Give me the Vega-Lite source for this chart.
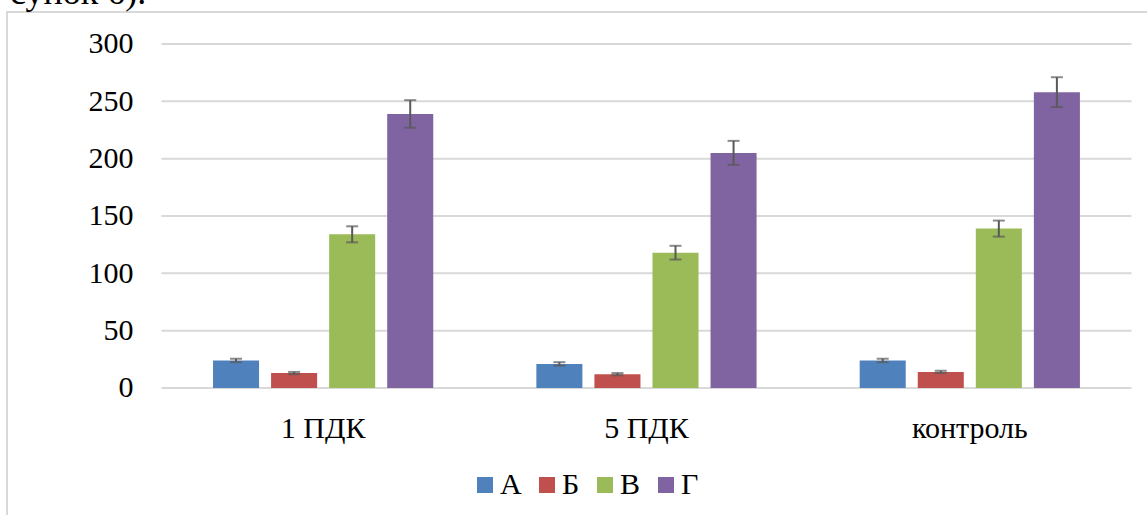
{
  "$schema": "https://vega.github.io/schema/vega-lite/v6.json",
  "autosize": "none",
  "width": 1160,
  "height": 560,
  "padding": {"left": 7, "top": 12, "right": 0, "bottom": 0},
  "background": "white",
  "title": {
    "text": "сунок 6).",
    "anchor": "start",
    "frame": "group",
    "baseline": "alphabetic",
    "offset": 0,
    "dy": 28,
    "dx": 3,
    "font": "Liberation Serif",
    "fontSize": 36,
    "fontWeight": "normal",
    "color": "black"
  },
  "datasets": {
    "bars": [
      {"group": "1 ПДК", "series": "А", "value": 24, "lo": 22.5, "hi": 25.5},
      {"group": "1 ПДК", "series": "Б", "value": 13, "lo": 12, "hi": 14},
      {"group": "1 ПДК", "series": "В", "value": 134, "lo": 127, "hi": 141},
      {"group": "1 ПДК", "series": "Г", "value": 239, "lo": 227, "hi": 251},
      {"group": "5 ПДК", "series": "А", "value": 21, "lo": 19.5, "hi": 22.5},
      {"group": "5 ПДК", "series": "Б", "value": 12, "lo": 11, "hi": 13},
      {"group": "5 ПДК", "series": "В", "value": 118, "lo": 112, "hi": 124},
      {"group": "5 ПДК", "series": "Г", "value": 205, "lo": 194.5, "hi": 215.5},
      {"group": "контроль", "series": "А", "value": 24, "lo": 22.5, "hi": 25.5},
      {"group": "контроль", "series": "Б", "value": 14, "lo": 13, "hi": 15},
      {"group": "контроль", "series": "В", "value": 139, "lo": 132, "hi": 146},
      {"group": "контроль", "series": "Г", "value": 258, "lo": 245, "hi": 271}
    ],
    "gridlines": [
      {"tick": 0}, {"tick": 50}, {"tick": 100}, {"tick": 150},
      {"tick": 200}, {"tick": 250}, {"tick": 300}
    ]
  },
  "layer": [
    {
      "data": {"name": "gridlines"},
      "mark": {"type": "rule", "color": "#d9d9d9", "strokeWidth": 2},
      "encoding": {
        "y": {"field": "tick", "type": "quantitative"},
        "x": {"datum": "1 ПДК", "type": "nominal", "bandPosition": 0},
        "x2": {"datum": "контроль", "bandPosition": 1}
      }
    },
    {
      "data": {"name": "bars"},
      "mark": {"type": "bar"},
      "encoding": {
        "x": {"field": "group", "type": "nominal"},
        "xOffset": {"field": "series", "type": "nominal"},
        "y": {"field": "value", "type": "quantitative", "stack": null},
        "color": {"field": "series", "type": "nominal"}
      }
    },
    {
      "data": {"name": "bars"},
      "mark": {"type": "rule", "color": "#595959", "strokeWidth": 2},
      "encoding": {
        "x": {"field": "group", "type": "nominal"},
        "xOffset": {"field": "series", "type": "nominal"},
        "y": {"field": "lo", "type": "quantitative"},
        "y2": {"field": "hi"}
      }
    },
    {
      "data": {"name": "bars"},
      "mark": {"type": "tick", "color": "#595959", "size": 12, "thickness": 2, "orient": "horizontal"},
      "encoding": {
        "x": {"field": "group", "type": "nominal"},
        "xOffset": {"field": "series", "type": "nominal"},
        "y": {"field": "lo", "type": "quantitative"}
      }
    },
    {
      "data": {"name": "bars"},
      "mark": {"type": "tick", "color": "#595959", "size": 12, "thickness": 2, "orient": "horizontal"},
      "encoding": {
        "x": {"field": "group", "type": "nominal"},
        "xOffset": {"field": "series", "type": "nominal"},
        "y": {"field": "hi", "type": "quantitative"}
      }
    }
  ],
  "encoding": {
    "x": {
      "scale": {
        "domain": ["1 ПДК", "5 ПДК", "контроль"],
        "paddingInner": 0,
        "paddingOuter": 0.2938,
        "align": 0.813
      },
      "axis": {
        "title": null,
        "orient": "bottom",
        "offset": -184,
        "domain": false,
        "ticks": false,
        "tickSize": 0,
        "grid": false,
        "labelPadding": 25,
        "labelFont": "Liberation Serif",
        "labelFontSize": 30,
        "labelColor": "black",
        "labelAngle": 0
      }
    },
    "xOffset": {
      "scale": {
        "domain": ["А", "Б", "В", "Г"],
        "paddingInner": 0.207,
        "paddingOuter": 0.888
      }
    },
    "y": {
      "scale": {"domain": [-160.5, 327.9], "nice": false, "zero": false},
      "axis": {
        "title": null,
        "orient": "left",
        "offset": -126,
        "values": [0, 50, 100, 150, 200, 250, 300],
        "domain": false,
        "ticks": false,
        "tickSize": 0,
        "grid": false,
        "labelPadding": 0,
        "labelAlign": "right",
        "labelBaseline": "middle",
        "labelFont": "Liberation Serif",
        "labelFontSize": 30,
        "labelColor": "black"
      }
    },
    "color": {
      "scale": {
        "domain": ["А", "Б", "В", "Г"],
        "range": ["#4f81bd", "#c0504d", "#9bbb59", "#8064a2"]
      },
      "legend": {
        "title": null,
        "orient": "none",
        "legendX": 463,
        "legendY": 458,
        "direction": "horizontal",
        "symbolType": "square",
        "symbolSize": 256,
        "symbolStrokeWidth": 0,
        "symbolOpacity": 1,
        "labelFont": "Liberation Serif",
        "labelFontSize": 30,
        "labelColor": "black",
        "labelOffset": 0,
        "columnPadding": 10,
        "padding": 0
      }
    }
  },
  "config": {
    "view": {"stroke": "#d9d9d9", "strokeWidth": 2},
    "bar": {"stroke": null}
  }
}
